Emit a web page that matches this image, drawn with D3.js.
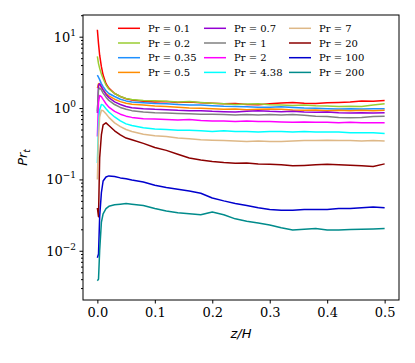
<!DOCTYPE html>
<html>
<head>
<meta charset="utf-8">
<script src="https://cdn.jsdelivr.net/npm/d3@7"></script>
<style>
  body { margin: 0; background: #fff; }
  svg { display: block; }
</style>
</head>
<body>
<svg id="chart" width="415" height="363"></svg>
<script>
// Turbulent Prandtl number profiles, Pr_t vs z/H

var zGrid = [0, 0.002, 0.004, 0.007, 0.01, 0.015, 0.02, 0.03, 0.04, 0.05, 0.06, 0.08,
    0.10, 0.12, 0.14, 0.16, 0.18, 0.20, 0.22, 0.24, 0.26, 0.28, 0.30, 0.32, 0.34,
    0.36, 0.38, 0.40, 0.42, 0.44, 0.46, 0.48, 0.50];

var prLabels = ["0.1", "0.2", "0.35", "0.5", "0.7", "1", "2", "4.38", "7", "20", "100", "200"];
var colors = ["#ff0000", "#9acd32", "#1e90ff", "#ff8c00", "#9400d3", "#808080",
    "#ff00ff", "#00ffff", "#deb887", "#8b0000", "#0000cd", "#008b8b"];

var pr01 = [12.5, 8, 5.5, 3.8, 2.9, 2.2, 1.9, 1.6, 1.45, 1.35, 1.3, 1.25, 1.22, 1.24, 1.2, 1.22,
    1.19, 1.17, 1.15, 1.16, 1.12, 1.11, 1.15, 1.18, 1.2, 1.17, 1.16, 1.19, 1.2, 1.22, 1.26, 1.25, 1.28];
var pr02 = [5.3, 4.2, 3.6, 3.0, 2.6, 2.1, 1.85, 1.6, 1.45, 1.36, 1.32, 1.28, 1.27, 1.25, 1.22, 1.24,
    1.2, 1.17, 1.15, 1.12, 1.14, 1.15, 1.11, 1.1, 1.09, 1.1, 1.08, 1.07, 1.05, 1.06, 1.05, 1.1, 1.15];
var pr035 = [2.9, 2.7, 2.5, 2.2, 2.0, 1.75, 1.6, 1.45, 1.33, 1.26, 1.22, 1.19, 1.16, 1.15, 1.12, 1.1,
    1.1, 1.08, 1.06, 1.05, 1.04, 1.03, 1.03, 1.04, 1.02, 1.0, 0.99, 0.98, 0.97, 0.98, 0.97, 0.98, 0.98];
var pr05 = [1.9, 2.2, 2.1, 1.95, 1.8, 1.6, 1.48, 1.33, 1.23, 1.17, 1.13, 1.1, 1.07, 1.05, 1.03, 1.0,
    0.99, 0.98, 0.96, 0.97, 0.95, 0.96, 0.97, 0.96, 0.94, 0.93, 0.94, 0.92, 0.93, 0.92, 0.93, 0.92, 0.93];
var pr07 = [0.85, 2.1, 2.2, 2.0, 1.8, 1.55, 1.4, 1.22, 1.12, 1.05, 1.01, 0.98, 0.96, 0.95, 0.93, 0.92,
    0.92, 0.9, 0.89, 0.88, 0.9, 0.92, 0.9, 0.89, 0.9, 0.88, 0.87, 0.88, 0.86, 0.85, 0.86, 0.85, 0.86];
var pr1 = [0.9, 1.8, 1.9, 1.8, 1.62, 1.42, 1.28, 1.12, 1.02, 0.96, 0.92, 0.88, 0.86, 0.85, 0.84, 0.83,
    0.82, 0.82, 0.81, 0.8, 0.81, 0.8, 0.81, 0.8, 0.81, 0.79, 0.77, 0.76, 0.74, 0.73, 0.74, 0.76, 0.77];
var pr2 = [0.4, 1.2, 1.5, 1.45, 1.32, 1.15, 1.03, 0.9, 0.82, 0.77, 0.74, 0.71, 0.7, 0.69, 0.68, 0.69,
    0.67, 0.66, 0.66, 0.65, 0.66, 0.65, 0.65, 0.64, 0.63, 0.64, 0.63, 0.63, 0.62, 0.63, 0.62, 0.62, 0.62];
var pr438 = [0.17, 0.6, 0.95, 1.12, 1.1, 0.98, 0.88, 0.75, 0.66, 0.6, 0.57, 0.53, 0.51, 0.5, 0.49, 0.49,
    0.48, 0.47, 0.48, 0.47, 0.47, 0.46, 0.47, 0.47, 0.46, 0.47, 0.46, 0.46, 0.46, 0.45, 0.45, 0.45, 0.44];
var pr7 = [0.1, 0.4, 0.75, 0.93, 0.92, 0.83, 0.74, 0.62, 0.55, 0.5, 0.47, 0.43, 0.41, 0.4, 0.38, 0.37,
    0.36, 0.355, 0.35, 0.345, 0.34, 0.345, 0.34, 0.34, 0.345, 0.35, 0.35, 0.355, 0.35, 0.35, 0.345, 0.35, 0.345];
var pr20 = [0.04, 0.03, 0.2, 0.42, 0.58, 0.62, 0.57, 0.48, 0.42, 0.38, 0.36, 0.32, 0.28, 0.255, 0.225, 0.2,
    0.187, 0.178, 0.172, 0.168, 0.17, 0.165, 0.163, 0.16, 0.155, 0.157, 0.16, 0.163, 0.16, 0.158, 0.155, 0.152, 0.165];
var pr100 = [0.008, 0.009, 0.03, 0.065, 0.095, 0.108, 0.112, 0.11, 0.105, 0.102, 0.098, 0.092, 0.083, 0.077,
    0.073, 0.069, 0.064, 0.055, 0.05, 0.046, 0.043, 0.04, 0.038, 0.037, 0.037, 0.038, 0.038, 0.038, 0.039,
    0.039, 0.04, 0.041, 0.04];
var pr200 = [0.0038, 0.004, 0.01, 0.025, 0.033, 0.039, 0.042, 0.044, 0.045, 0.046, 0.045, 0.043, 0.039,
    0.036, 0.034, 0.033, 0.032, 0.035, 0.032, 0.028, 0.026, 0.0245, 0.023, 0.021, 0.0195, 0.02, 0.0205,
    0.0195, 0.0195, 0.0198, 0.02, 0.0202, 0.0205];

var seriesValues = [pr01, pr02, pr035, pr05, pr07, pr1, pr2, pr438, pr7, pr20, pr100, pr200];

var xTicks = [0, 0.1, 0.2, 0.3, 0.4, 0.5];
var yTicks = [0.01, 0.1, 1, 10];
var yTickExp = ["\u22122", "\u22121", "0", "1"];

var svg = d3.select("#chart"),
    plotLeft = 83, plotRight = 399, plotTop = 15, plotBottom = 300;

var x = d3.scaleLinear().domain([-0.025, 0.525]).range([plotLeft, plotRight]);
var y = d3.scaleLog().domain([Math.pow(10, -2.69), Math.pow(10, 1.304)]).range([plotBottom, plotTop]);

svg.append("clipPath").attr("id", "plotClip")
    .append("rect")
    .attr("x", plotLeft).attr("y", plotTop)
    .attr("width", plotRight - plotLeft).attr("height", plotBottom - plotTop);

// curves
var line = d3.line()
    .x(function (d) { return x(d[0]); })
    .y(function (d) { return y(d[1]); });

svg.append("g")
    .attr("clip-path", "url(#plotClip)")
    .selectAll("path")
    .data(seriesValues)
    .enter().append("path")
    .attr("fill", "none")
    .attr("stroke", function (d, i) { return colors[i]; })
    .attr("stroke-width", 1.5)
    .attr("stroke-linejoin", "round")
    .attr("d", function (vals) {
        return line(vals.map(function (v, j) { return [zGrid[j], v]; }));
    });

// x axis
var xAxis = svg.append("g")
    .attr("transform", "translate(0," + plotBottom + ")")
    .call(d3.axisBottom(x).tickValues(xTicks).tickFormat(d3.format(".1f"))
        .tickSize(3.5).tickPadding(4));
xAxis.select(".domain").remove();
xAxis.selectAll("text")
    .attr("font-family", "DejaVu Serif")
    .attr("font-size", 13)
    .attr("fill", "#000");

// y axis, major + minor ticks
var minor = [];
[-3, -2, -1, 0, 1].forEach(function (e) {
    for (var m = 2; m <= 9; m++) minor.push(m * Math.pow(10, e));
});
minor = minor.filter(function (v) { return v > y.domain()[0] && v < y.domain()[1]; });

var yMinor = svg.append("g")
    .attr("transform", "translate(" + plotLeft + ",0)")
    .call(d3.axisLeft(y).tickValues(minor).tickFormat("").tickSize(2));
yMinor.select(".domain").remove();

var yAxis = svg.append("g")
    .attr("transform", "translate(" + plotLeft + ",0)")
    .call(d3.axisLeft(y).tickValues(yTicks).tickFormat("").tickSize(3.5));
yAxis.select(".domain").remove();

var yLab = svg.append("g").selectAll("text")
    .data(yTicks)
    .enter().append("text")
    .attr("x", plotLeft - 7)
    .attr("y", function (d) { return y(d) + 5; })
    .attr("text-anchor", "end")
    .attr("font-family", "DejaVu Serif")
    .attr("font-size", 13)
    .attr("fill", "#000");
yLab.append("tspan").text("10");
yLab.append("tspan")
    .attr("dy", -6)
    .attr("font-size", 9)
    .text(function (d, i) { return yTickExp[i]; });

// frame
svg.append("rect")
    .attr("x", plotLeft).attr("y", plotTop)
    .attr("width", plotRight - plotLeft).attr("height", plotBottom - plotTop)
    .attr("fill", "none")
    .attr("stroke", "#000")
    .attr("stroke-width", 1);

// axis labels
svg.append("text")
    .attr("x", (plotLeft + plotRight) / 2)
    .attr("y", 338)
    .attr("text-anchor", "middle")
    .attr("font-family", "DejaVu Sans")
    .attr("font-style", "italic")
    .attr("font-size", 13)
    .text("z/H");

var yTitle = svg.append("text")
    .attr("transform", "translate(27," + (plotTop + plotBottom) / 2 + ") rotate(-90)")
    .attr("text-anchor", "middle")
    .attr("font-family", "DejaVu Sans")
    .attr("font-style", "italic")
    .attr("font-size", 13);
yTitle.append("tspan").text("Pr");
yTitle.append("tspan").attr("dy", 3).attr("font-size", 9).text("t");

// legend: 3 columns x 4 rows
var colX = [118, 204, 289];
var legend = svg.append("g").selectAll("g")
    .data(prLabels)
    .enter().append("g")
    .attr("transform", function (d, i) {
        return "translate(" + colX[Math.floor(i / 4)] + "," + (28.3 + (i % 4) * 14.7) + ")";
    });
legend.append("line")
    .attr("x1", 0).attr("x2", 22)
    .attr("stroke", function (d, i) { return colors[i]; })
    .attr("stroke-width", 1.5);
legend.append("text")
    .attr("x", 30)
    .attr("y", 3.6)
    .attr("font-family", "DejaVu Serif")
    .attr("font-size", 10)
    .text(function (d) { return "Pr = " + d; });
</script>
</body>
</html>
